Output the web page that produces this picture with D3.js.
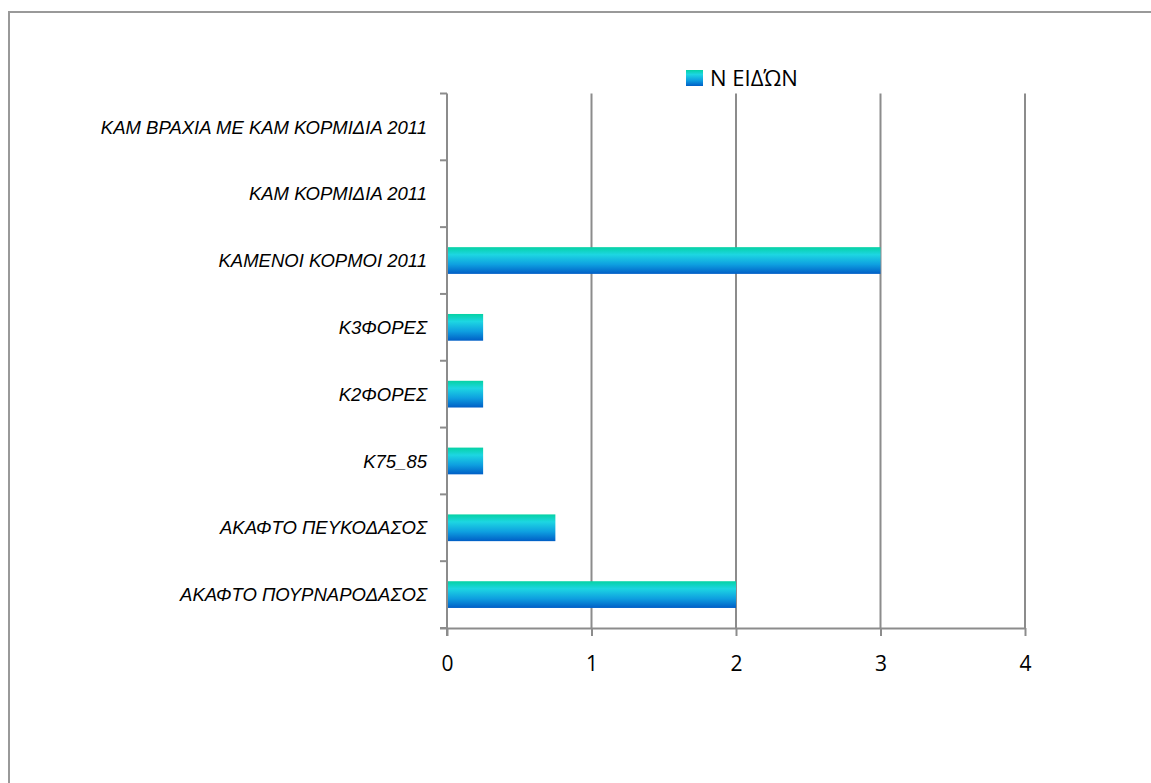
<!DOCTYPE html>
<html>
<head>
<meta charset="utf-8">
<script src="https://cdn.jsdelivr.net/npm/d3@7/dist/d3.min.js"></script>
<style>
html,body{margin:0;padding:0;background:#fff;}
svg{display:block;}
</style>
</head>
<body>
<svg id="chart" width="1151" height="783"></svg>
<script>
const categories = [
  "ΚΑΜ ΒΡΑΧΙΑ ΜΕ ΚΑΜ ΚΟΡΜΙΔΙΑ 2011",
  "ΚΑΜ ΚΟΡΜΙΔΙΑ 2011",
  "ΚΑΜΕΝΟΙ ΚΟΡΜΟΙ 2011",
  "Κ3ΦΟΡΕΣ",
  "Κ2ΦΟΡΕΣ",
  "Κ75_85",
  "ΑΚΑΦΤΟ ΠΕΥΚΟΔΑΣΟΣ",
  "ΑΚΑΦΤΟ ΠΟΥΡΝΑΡΟΔΑΣΟΣ"
];
const values = [0, 0, 3, 0.25, 0.25, 0.25, 0.75, 2];
const seriesName = "Ν ΕΙΔΏΝ";
const xTicks = [0, 1, 2, 3, 4];

(function () {
const svg = d3.select("#chart");
const W = 1151, H = 783;

// outer frame
svg.append("rect").attr("x", 9).attr("y", 12).attr("width", W).attr("height", H)
  .attr("fill", "#fff").attr("stroke", "#999").attr("stroke-width", 2);

const defs = svg.append("defs");
const grad = defs.append("linearGradient").attr("id", "barGrad")
  .attr("x1", 0).attr("y1", 0).attr("x2", 0).attr("y2", 1);
[[0, "#05d2a4"], [0.28, "#1dd6e2"], [0.65, "#0e9fe0"], [1, "#005ec6"]].forEach(([o, c]) =>
  grad.append("stop").attr("offset", o).attr("stop-color", c));

const pLeft = 447, pRight = 1025, pTop = 93.5, pBottom = 628;
const x = d3.scaleLinear().domain([0, 4]).range([pLeft, pRight]);
const y = d3.scaleBand().domain(categories).range([pTop, pBottom]).paddingInner(0.6).paddingOuter(0.3);

const gridColor = "#8c8c8c";

// vertical gridlines
svg.append("g").selectAll("line").data(xTicks.slice(1)).join("line")
  .attr("x1", d => x(d)).attr("x2", d => x(d))
  .attr("y1", pTop).attr("y2", pBottom)
  .attr("stroke", gridColor).attr("stroke-width", 2);

// bars
svg.append("g").selectAll("rect").data(categories).join("rect")
  .attr("x", x(0))
  .attr("y", d => y(d))
  .attr("width", (d, i) => x(values[i]) - x(0))
  .attr("height", y.bandwidth())
  .attr("fill", "url(#barGrad)");

// x axis
const xAxis = svg.append("g").attr("transform", `translate(0,${pBottom})`)
  .call(d3.axisBottom(x).tickValues(xTicks).tickSize(8).tickPadding(20).tickFormat(d3.format("d")));
xAxis.select(".domain").attr("stroke", gridColor).attr("stroke-width", 2)
  .attr("d", `M${pLeft - 7},0.5H${pRight}`);
xAxis.selectAll(".tick line").attr("stroke", gridColor).attr("stroke-width", 2);
xAxis.selectAll(".tick text").attr("fill", "#000")
  .style("font-family", "'Open Sans', 'Liberation Sans', sans-serif").style("font-size", "21px");

// y axis
const yEdges = d3.range(categories.length + 1).map(i => pTop + i * (pBottom - pTop) / categories.length);
const yAxisG = svg.append("g");
yAxisG.append("line").attr("x1", pLeft).attr("x2", pLeft).attr("y1", pTop).attr("y2", pBottom + 8)
  .attr("stroke", gridColor).attr("stroke-width", 2);
yAxisG.selectAll("line.tk").data(yEdges).join("line").attr("class", "tk")
  .attr("x1", pLeft - 7).attr("x2", pLeft).attr("y1", d => d).attr("y2", d => d)
  .attr("stroke", gridColor).attr("stroke-width", 2);
yAxisG.selectAll("text").data(categories).join("text")
  .attr("x", 427).attr("y", d => y(d) + y.bandwidth() / 2)
  .attr("dy", "0.36em").attr("text-anchor", "end")
  .style("font-family", "'Liberation Sans', Arial, sans-serif")
  .style("font-style", "italic").style("font-size", "18.5px").attr("fill", "#000")
  .text(d => d);

// legend
const lg = svg.append("g");
lg.append("rect").attr("x", 686).attr("y", 70).attr("width", 17).attr("height", 16).attr("fill", "url(#barGrad)");
lg.append("text").attr("x", 710).attr("y", 78).attr("dy", "0.36em")
  .style("font-family", "'Open Sans', 'Liberation Sans', sans-serif").style("font-size", "22px")
  .attr("fill", "#000").text(seriesName);
})();
</script>
</body>
</html>
